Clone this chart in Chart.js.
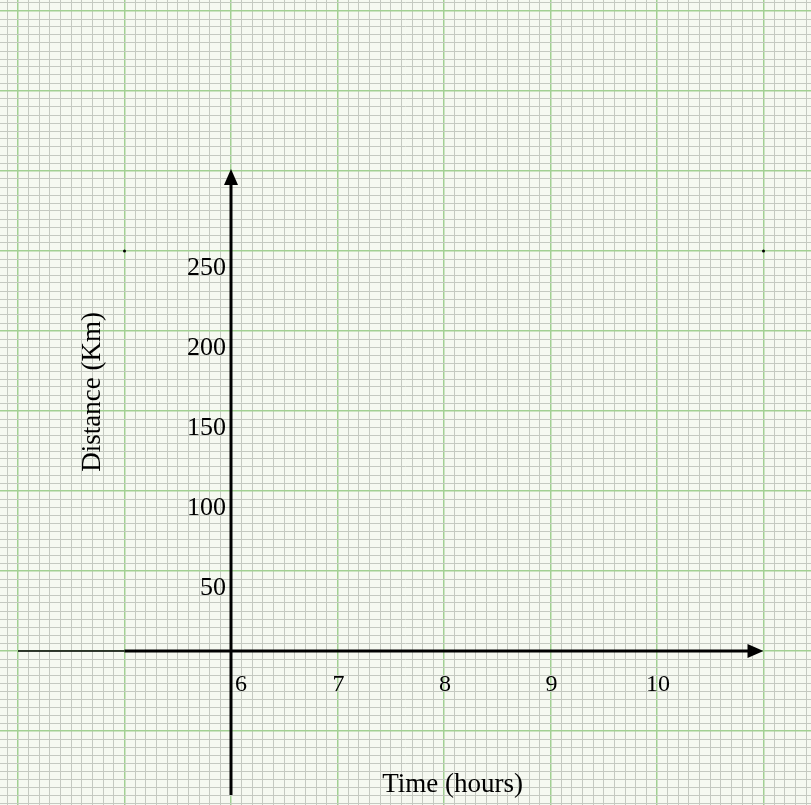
<!DOCTYPE html>
<html>
<head>
<meta charset="utf-8">
<script src="https://cdn.jsdelivr.net/npm/chart.js@4"></script>
<style>
    html, body { margin: 0; padding: 0; background: #f6f9f1; }
    #wrap { width: 811px; height: 805px; }
</style>
</head>
<body>
<div id="wrap"><canvas id="graph" width="811" height="805"></canvas></div>
<script>
// axis labels as printed on the sheet
const timeTicks = [6, 7, 8, 9, 10];
const distanceTicks = [50, 100, 150, 200, 250];
const xTitle = 'Time (hours)';
const yTitle = 'Distance (Km)';

const minorColor = '#c5c9c1';
const majorColor = '#a2d093';

function isWhole(v, step) {
    const r = v / step;
    return Math.abs(r - Math.round(r)) < 1e-6;
}

// draws the two arrowed axes and the hand placed numbers
const axesPlugin = {
    id: 'axesPlugin',
    afterDraw(chart) {
        const ctx = chart.ctx;
        const xs = chart.scales.x;
        const ys = chart.scales.y;
        const x0 = xs.getPixelForValue(6);
        const y0 = ys.getPixelForValue(0);

        ctx.save();
        ctx.strokeStyle = '#000';
        ctx.fillStyle = '#000';

        // pin marks on the sheet
        [5, 11].forEach((t) => {
            ctx.beginPath();
            ctx.arc(xs.getPixelForValue(t), ys.getPixelForValue(250), 1.5, 0, Math.PI * 2);
            ctx.fill();
        });

        // thin stub of the x axis on the left
        ctx.lineWidth = 1.5;
        ctx.beginPath();
        ctx.moveTo(xs.getPixelForValue(4), y0);
        ctx.lineTo(xs.getPixelForValue(5), y0);
        ctx.stroke();

        // x axis
        const xTip = xs.getPixelForValue(11);
        ctx.lineWidth = 3;
        ctx.beginPath();
        ctx.moveTo(xs.getPixelForValue(5), y0);
        ctx.lineTo(xTip - 10, y0);
        ctx.stroke();
        ctx.beginPath();
        ctx.moveTo(xTip, y0);
        ctx.lineTo(xTip - 16, y0 - 7);
        ctx.lineTo(xTip - 16, y0 + 7);
        ctx.closePath();
        ctx.fill();

        // y axis
        const yTip = ys.getPixelForValue(300) - 2;
        ctx.beginPath();
        ctx.moveTo(x0, ys.getPixelForValue(-90));
        ctx.lineTo(x0, yTip + 10);
        ctx.stroke();
        ctx.beginPath();
        ctx.moveTo(x0, yTip);
        ctx.lineTo(x0 - 7, yTip + 16);
        ctx.lineTo(x0 + 7, yTip + 16);
        ctx.closePath();
        ctx.fill();

        // numbers along the time axis
        ctx.font = '24px "Liberation Serif", "Times New Roman", serif';
        ctx.textBaseline = 'middle';
        timeTicks.forEach((t, i) => {
            const px = xs.getPixelForValue(t);
            if (i == 0) {
                ctx.textAlign = 'left';
                ctx.fillText(String(t), px + 4, y0 + 34);
            } else {
                ctx.textAlign = 'center';
                ctx.fillText(String(t), px + 1, y0 + 34);
            }
        });

        // numbers along the distance axis
        ctx.font = '26px "Liberation Serif", "Times New Roman", serif';
        ctx.textAlign = 'right';
        distanceTicks.forEach((d) => {
            ctx.fillText(String(d), x0 - 5, ys.getPixelForValue(d) + 17);
        });

        // axis titles
        ctx.font = '27px "Liberation Serif", "Times New Roman", serif';
        ctx.textAlign = 'center';
        ctx.fillText(xTitle, xs.getPixelForValue(8.08), ys.getPixelForValue(-84));

        ctx.translate(xs.getPixelForValue(4.7), ys.getPixelForValue(162));
        ctx.rotate(-Math.PI / 2);
        ctx.fillText(yTitle, 0, 0);
        ctx.restore();
    }
};

const graph = new Chart(document.getElementById('graph'), {
    type: 'scatter',
    data: {
        datasets: [{
            label: 'distance',
            data: []
        }]
    },
    options: {
        responsive: false,
        animation: false,
        layout: { padding: 0 },
        plugins: {
            legend: { display: false },
            tooltip: { enabled: false }
        },
        scales: {
            x: {
                type: 'linear',
                min: 3.831,
                max: 11.446,
                border: { display: false },
                grid: {
                    drawTicks: false,
                    lineWidth: (c) => isWhole(c.tick.value, 1) ? 1.5 : 1,
                    color: (c) => isWhole(c.tick.value, 1) ? majorColor : minorColor
                },
                ticks: {
                    display: false,
                    stepSize: 0.1,
                    autoSkip: false,
                    includeBounds: false
                }
            },
            y: {
                type: 'linear',
                min: -96.25,
                max: 406.875,
                border: { display: false },
                grid: {
                    drawTicks: false,
                    lineWidth: (c) => isWhole(c.tick.value, 50) ? 1.5 : 1,
                    color: (c) => isWhole(c.tick.value, 50) ? majorColor : minorColor
                },
                ticks: {
                    display: false,
                    stepSize: 5,
                    autoSkip: false,
                    includeBounds: false
                }
            }
        }
    },
    plugins: [axesPlugin]
});
</script>
</body>
</html>
